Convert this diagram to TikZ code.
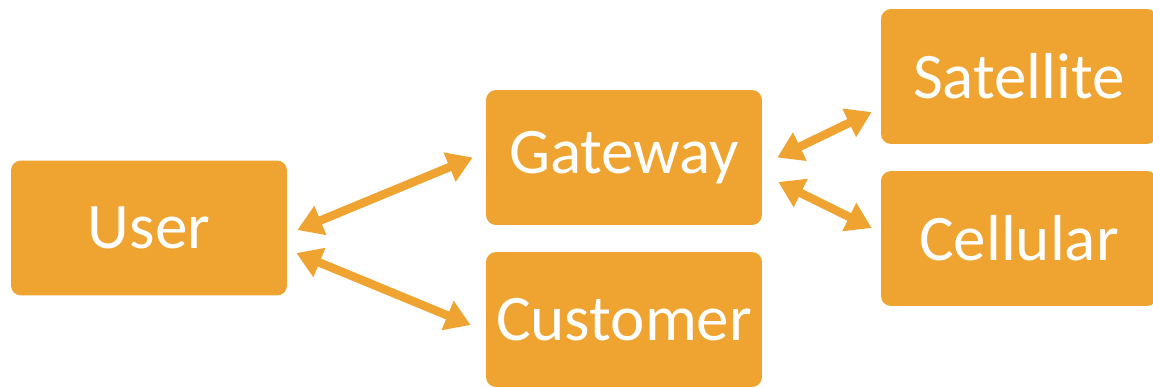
\documentclass[tikz,border=0pt]{standalone}
\usepackage{fontspec}
\setmainfont{Carlito}
\usetikzlibrary{arrows.meta,positioning}
\definecolor{boxorange}{RGB}{239,163,48}
\tikzset{
roundbox/.style={
  rectangle,
  rounded corners=0.2cm,
  fill=boxorange,
  text=white,
  minimum width=5.52cm,
  minimum height=2.7cm,
  font=\fontsize{37}{44}\selectfont
  },
link/.style={
  <->,
  draw=boxorange,
  line width=0.17cm
  }
}

\begin{document}
\begin{tikzpicture}[x=0.02cm, y=-0.02cm, >={Triangle[width=0.6cm,length=0.5cm]}]
\useasboundingbox (0,0) rectangle (1153,387);

\node[roundbox] at (149,228) (user) {User};
\node[roundbox] at (624,157.5) (gateway) {Gateway};
\node[roundbox] at (624,319.5) (customer) {Customer};
\node[roundbox] at (1019,76.5) (satellite) {Satellite};
\node[roundbox] at (1019,238.5) (cellular) {Cellular};

% double arrows between the boxes
\draw[link]
  ([shift={(10,2)}]user.east) -- ([shift={(-13,0)}]gateway.west);
\draw[link]
  ([shift={(9,25)}]user.east) -- ([shift={(-15,5.5)}]customer.west);
\draw[link]
  ([shift={(15,0)}]gateway.east) -- ([shift={(-9,35.5)}]satellite.west);
\draw[link]
  ([shift={(16,24.5)}]gateway.east) -- ([shift={(-9,-10.5)}]cellular.west);
\end{tikzpicture}
\end{document}
